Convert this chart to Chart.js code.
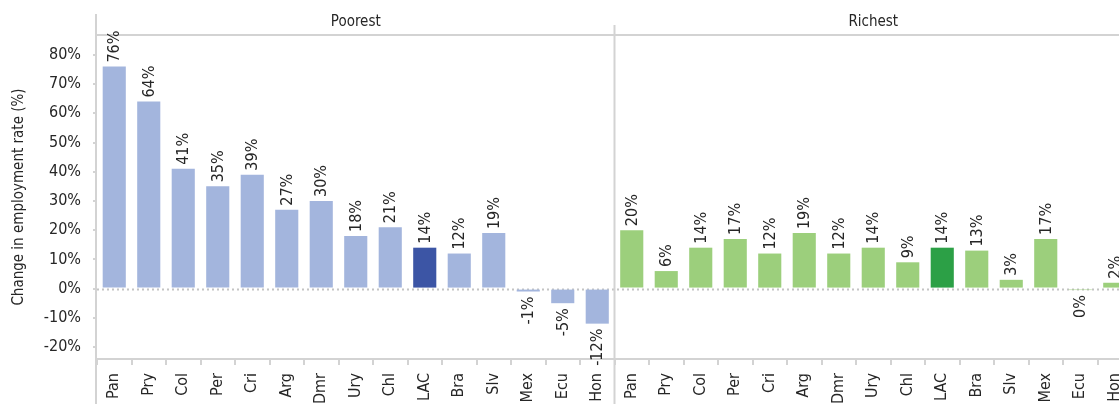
<!DOCTYPE html>
<html>
<head>
<meta charset="utf-8">
<script src="https://cdn.jsdelivr.net/npm/chart.js@4.4.1/dist/chart.umd.min.js"></script>
<style>
  html, body { margin: 0; padding: 0; background: #ffffff; overflow: hidden; }
  #wrap { position: absolute; left: 0; top: 0; width: 1132px; height: 404px; }
</style>
</head>
<body>
<div id="wrap"><canvas id="c" width="1132" height="404"></canvas></div>
<script>
const categories = ['Pan','Pry','Col','Per','Cri','Arg','Dmr','Ury','Chl','LAC','Bra','Slv','Mex','Ecu','Hon'];
const poorest = [76, 64, 41, 35, 39, 27, 30, 18, 21, 14, 12, 19, -1, -5, -12];
const richest = [20, 6, 14, 17, 12, 19, 12, 14, 9, 14, 13, 3, 17, -0.5, 2];
const panels = ['Poorest', 'Richest'];
const yTickValues = [-20, -10, 0, 10, 20, 30, 40, 50, 60, 70, 80];
const yTitle = 'Change in employment rate (%)';

const FONT = "'DejaVu Sans Condensed', 'DejaVu Sans', sans-serif";
const TEXT = '#262626';
const LINE = '#d3d3d3';
const poorColor = '#a3b5dd', poorLAC = '#3c55a5';
const richColor = '#9ccf7c', richLAC = '#2ca046';

const labels = categories.concat(categories);
const values = poorest.concat(richest);
const colors = labels.map((c, i) => {
  const rich = i >= categories.length;
  if (c === 'LAC') return rich ? richLAC : poorLAC;
  return rich ? richColor : poorColor;
});

const framePlugin = {
  id: 'frame',
  beforeDatasetsDraw(chart) {
    const { ctx, chartArea: a, scales: { y } } = chart;
    const y0 = Math.round(y.getPixelForValue(0)) + 0.5;
    ctx.save();
    ctx.strokeStyle = '#c4c4c4';
    ctx.lineWidth = 2;
    ctx.setLineDash([2, 3]);
    ctx.beginPath();
    ctx.moveTo(a.left, y0);
    ctx.lineTo(a.right, y0);
    ctx.stroke();
    ctx.restore();
  },
  afterDraw(chart) {
    const { ctx, chartArea: a, scales: { x } } = chart;
    const n = categories.length;
    const sep = (x.getPixelForValue(n - 1) + x.getPixelForValue(n)) / 2;
    ctx.save();
    ctx.strokeStyle = LINE;
    ctx.lineWidth = 2;
    ctx.beginPath();
    ctx.moveTo(a.left - 1, 14);
    ctx.lineTo(a.left - 1, chart.height);
    ctx.moveTo(sep, 25);
    ctx.lineTo(sep, chart.height);
    ctx.moveTo(a.left - 1, a.top);
    ctx.lineTo(chart.width, a.top);
    ctx.stroke();
    ctx.fillStyle = TEXT;
    ctx.font = "15px " + FONT;
    ctx.textAlign = 'center';
    ctx.textBaseline = 'middle';
    ctx.fillText(panels[0], (a.left + sep) / 2, 22);
    ctx.fillText(panels[1], (sep + a.right) / 2, 22);
    const meta = chart.getDatasetMeta(0);
    ctx.font = "16px " + FONT;
    meta.data.forEach((bar, i) => {
      const v = values[i];
      const txt = Math.round(v) + '%';
      ctx.save();
      if (v >= 0) {
        ctx.translate(bar.x + 1, bar.y - 4);
        ctx.rotate(-Math.PI / 2);
        ctx.textAlign = 'left';
      } else {
        ctx.translate(bar.x + 1, bar.y + 5);
        ctx.rotate(-Math.PI / 2);
        ctx.textAlign = 'right';
      }
      ctx.fillText(txt, 0, 0);
      ctx.restore();
    });
    ctx.restore();
  }
};

new Chart(document.getElementById('c'), {
  type: 'bar',
  data: {
    labels: labels,
    datasets: [{
      data: values,
      backgroundColor: colors,
      borderWidth: 0,
      categoryPercentage: 1,
      barPercentage: 0.67
    }]
  },
  options: {
    responsive: false,
    animation: false,
    devicePixelRatio: 1,
    layout: { padding: { top: 35, right: 0, left: 0, bottom: 0 } },
    plugins: { legend: { display: false }, tooltip: { enabled: false } },
    scales: {
      x: {
        afterFit(s) { s.height = 45; s.paddingRight = 0; s.paddingLeft = 0; },
        grid: { display: true, drawOnChartArea: false, drawTicks: true, tickLength: 6, color: LINE, lineWidth: 2, offset: true },
        border: { display: true, color: LINE, width: 2 },
        ticks: {
          color: TEXT, font: { family: FONT, size: 16 },
          minRotation: 90, maxRotation: 90, padding: 8, autoSkip: false
        }
      },
      y: {
        min: -24.1, max: 86.8,
        afterFit(s) { s.width = 97; },
        afterBuildTicks(s) { s.ticks = yTickValues.map(v => ({ value: v })); },
        grid: { display: true, drawOnChartArea: false, drawTicks: true, tickLength: 4, color: LINE, lineWidth: 2 },
        border: { display: false },
        ticks: {
          color: TEXT, font: { family: FONT, size: 16 }, padding: 12,
          callback: v => v + '%'
        },
        title: {
          display: true, text: yTitle, color: TEXT,
          font: { family: FONT, size: 15 }, padding: { top: 10, bottom: 0 }
        }
      }
    }
  },
  plugins: [framePlugin]
});
</script>
</body>
</html>
